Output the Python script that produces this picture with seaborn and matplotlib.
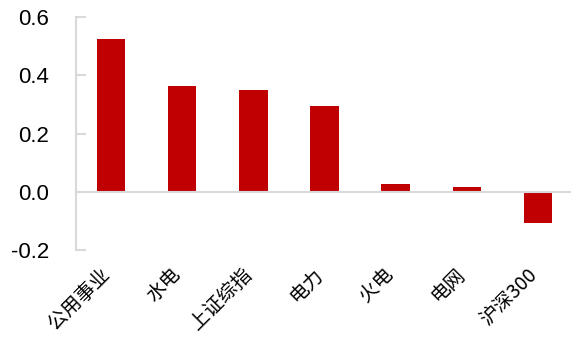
import numpy as np
import pandas as pd
import matplotlib
matplotlib.use("Agg")
import matplotlib.pyplot as plt
import matplotlib.transforms as mtransforms
import seaborn as sns

categories = ["公用事业", "水电", "上证综指", "电力", "火电", "电网", "沪深300"]
values = [0.523, 0.363, 0.348, 0.293, 0.026, 0.017, -0.106]
yticks = [-0.2, 0.0, 0.2, 0.4, 0.6]
ytick_labels = ["-0.2", "0.0", "0.2", "0.4", "0.6"]

sns.set_theme(style="white")
plt.rcParams['font.family'] = ['Liberation Sans', 'Noto Sans CJK SC', 'DejaVu Sans']

df = pd.DataFrame({"cat": categories, "val": values})

fig = plt.figure(figsize=(5.71, 3.37), dpi=100)
ax = fig.add_axes([75.5 / 571, 1 - 250 / 337, 498 / 571, (250 - 17) / 337])

sns.barplot(data=df, x="cat", y="val", color="#C00000", saturation=1,
            width=0.40, ax=ax, edgecolor="none")

ax.set_xlim(-0.5, len(categories) - 0.5)
ax.set_ylim(-0.2, 0.6)
ax.set_yticks(yticks)
ax.set_yticklabels(ytick_labels, fontsize=16, color="black")
ax.set_xlabel("")
ax.set_ylabel("")

grey = "#D9D9D9"
ax.axhline(0, color=grey, lw=1.5, zorder=1)
for s in ["top", "right", "bottom"]:
    ax.spines[s].set_visible(False)
ax.spines["left"].set_color(grey)
ax.spines["left"].set_linewidth(1.5)
ax.tick_params(axis="y", direction="in", length=7, width=1.5, color=grey,
               pad=19, left=True)
ax.tick_params(axis="x", length=0, pad=10)

ax.set_xticks(range(len(categories)))
ax.set_xticklabels(categories, rotation=45, ha="right", va="top",
                   rotation_mode="anchor", fontsize=14, color="black",
                   family=['Noto Sans CJK SC', 'DejaVu Sans'])
shift = mtransforms.ScaledTranslation(-12 / 100.0, 0, fig.dpi_scale_trans)
for lab in ax.get_xticklabels():
    lab.set_transform(lab.get_transform() + shift)

fig.savefig("out.png", dpi=100)
